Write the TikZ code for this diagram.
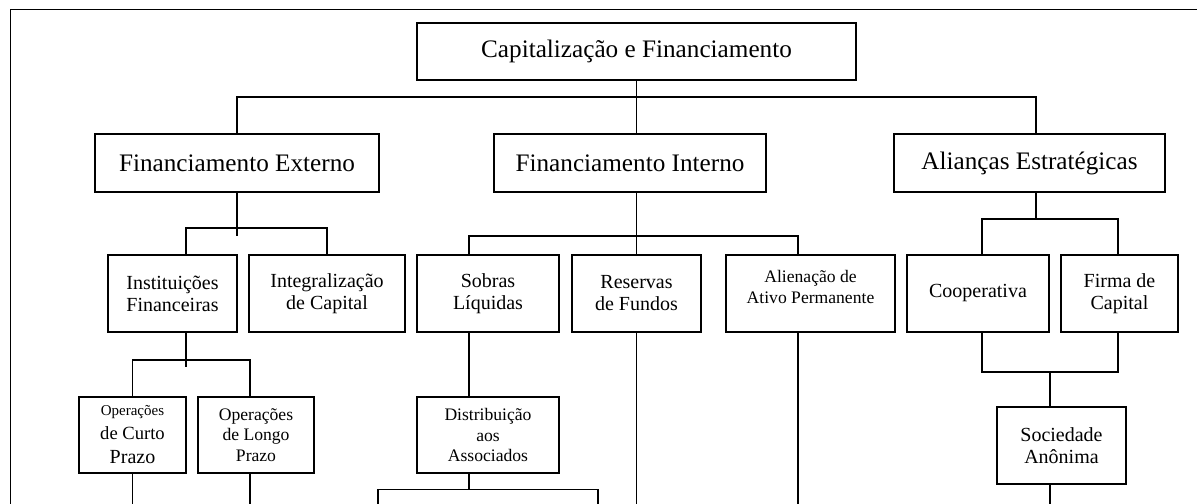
\documentclass[tikz,border=0pt]{standalone}
\usepackage{fontspec}
\setmainfont{Liberation Serif}
\usepackage{tikz}
\usetikzlibrary{positioning}

\tikzset{
    caixa/.style={draw, rectangle, inner sep=0pt, align=center, line width=0.7pt},
    grande/.style={font=\fontsize{12.6}{15}\selectfont},
    medio/.style={font=\fontsize{10}{11}\selectfont},
    pequeno/.style={font=\fontsize{8.8}{10.4}\selectfont}
}

\begin{document}
\begin{tikzpicture}[x=0.5pt, y=-0.5pt, line width=0.7pt]

                \clip (0,0) rectangle (1197,503);
                \draw (10.5,9.5) rectangle (1230,540);

                % Définitions des caixas
                \node[caixa, grande, minimum width=219.5pt, minimum height=28.5pt] (cap) at (636.5,51.5) {Capitalização e Financiamento};
                \node[caixa, grande, minimum width=142pt, minimum height=29pt] (fe) at (237,163) {Financiamento Externo};
                \node[caixa, grande, minimum width=136pt, minimum height=29pt] (fi) at (630,163) {Financiamento Interno};
                \node[caixa, grande, minimum width=135.5pt, minimum height=29pt] (ae) at (1029.5,163) {Alianças Estratégicas};

                \node[caixa, medio, minimum width=64.5pt, minimum height=38.5pt] (inst) at (172.5,293.5) {Instituições\\Financeiras};
                \node[caixa, medio, minimum width=78pt, minimum height=38.5pt] (integ) at (327,293.5) {Integralização\\de Capital};
                \node[caixa, medio, minimum width=71pt, minimum height=38.5pt] (sobras) at (488,293.5) {Sobras\\Líquidas};
                \node[caixa, medio, minimum width=64.5pt, minimum height=38.5pt] (reserv) at (636.5,293.5) {Reservas\\de Fundos};
                \node[caixa, pequeno, minimum width=84.5pt, minimum height=38.5pt] (alien) at (810.5,293.5) {Alienação de\\Ativo Permanente\\[-3.4pt]};
                \node[caixa, medio, minimum width=71pt, minimum height=38.5pt] (coop) at (978,293.5) {Cooperativa};
                \node[caixa, medio, minimum width=58.5pt, minimum height=38.5pt] (firma) at (1119.5,293.5) {Firma de\\Capital};

                \node[caixa, minimum width=53.5pt, minimum height=38pt] (curto) at (132.5,435)
                    {\fontsize{7.5}{9}\selectfont Operações\\\fontsize{9.3}{11}\selectfont de Curto\\\fontsize{10}{12}\selectfont Prazo};
                \node[caixa, pequeno, minimum width=58pt, minimum height=38pt] (longo) at (256,435) {Operações\\de Longo\\Prazo};
                \node[caixa, pequeno, minimum width=71pt, minimum height=38pt] (distr) at (488,435) {Distribuição\\aos\\Associados};
                \node[caixa, medio, minimum width=64.5pt, minimum height=38.5pt] (soc) at (1061.5,445.5) {Sociedade\\Anônima};
                \node[caixa, minimum width=110pt, minimum height=30pt, anchor=north] (resto) at (488,489) {};

                % Junções
                \coordinate (j0) at (636.5,97);
                \coordinate (j1) at (237,228);
                \coordinate (j2) at (636.5,236);
                \coordinate (j3) at (186,360);
                \coordinate (j4) at (1036,219);
                \coordinate (j5) at (1050,372);
                \coordinate (xs) at (469,0);

                % Définition des ligações
                \draw (cap.south) -- (j0) -- (fi.north -| j0);
                \draw (fe.north) |- (j0) -| ([xshift=3.25pt]ae.north);

                \draw (fe.south) -- ++(0,43);
                \draw ([xshift=6.75pt]inst.north) |- (j1) -| (integ.north);

                \draw (fi.south -| j2) -- ++(0,43);
                \draw (xs |- sobras.north) |- (j2) -| ([xshift=-6.25pt]alien.north);
                \draw (j2) -- (reserv.north);

                \draw ([xshift=3.25pt]ae.south) -- (j4);
                \draw ([xshift=2pt]coop.north) |- (j4) -| ([xshift=-0.75pt]firma.north);
                \draw ([xshift=2pt]coop.south) |- (j5) -| ([xshift=-0.75pt]firma.south);
                \draw (j5) -- (j5 |- soc.north);
                \draw (j5 |- soc.south) -- ++(0,40);

                \draw (j3 |- inst.south) -- ++(0,34);
                \draw (curto.north) |- (j3) -| ([xshift=-3pt]longo.north);
                \draw (curto.south) -- ++(0,40);
                \draw ([xshift=-3pt]longo.south) -- ++(0,40);

                \draw (xs |- sobras.south) -- (xs |- distr.north);
                \draw (xs |- distr.south) -- (xs |- resto.north);

                \draw (reserv.south) -- ++(0,200);
                \draw ([xshift=-6.25pt]alien.south) -- ++(0,200);

            \end{tikzpicture}
\end{document}
